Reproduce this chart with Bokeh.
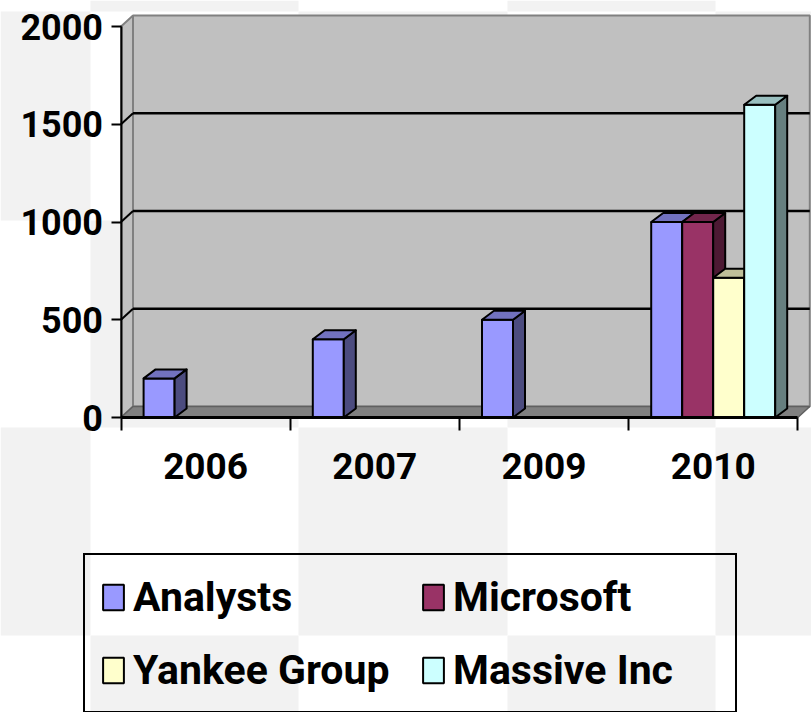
from bokeh.plotting import figure
from bokeh.models import Range1d, FixedTicker, Legend, LegendItem, LinearAxis
from bokeh.embed import file_html
from bokeh.resources import INLINE

# ---------------- data ----------------
categories = ["2006", "2007", "2009", "2010"]
series_names = ["Analysts", "Microsoft", "Yankee Group", "Massive Inc"]
analysts = [200, 400, 500, 1000]
microsoft = [None, None, None, 1000]
yankee = [None, None, None, 715]
massive = [None, None, None, 1600]
series_values = [analysts, microsoft, yankee, massive]
y_ticks = [0, 500, 1000, 1500, 2000]
grid_values = [500, 1000, 1500]

# ---------------- style ----------------
colors = ["#9999ff", "#993366", "#ffffcc", "#ccffff"]
FONT = "Roboto"
W, H = 811, 712
X0, XS = 120.5, 169.2      # pixel of x=0, pixels per category
Y0, YS = 417.0, 0.1955     # pixel of y=0, pixels per unit
DXP, DYP = 12, 11          # wall depth offset in pixels
BDXP, BDYP = 12, 9         # bar depth offset in pixels
BWP = 31                   # bar width in pixels

def shade(c, f):
    r, g, b = int(c[1:3], 16), int(c[3:5], 16), int(c[5:7], 16)
    return "#%02x%02x%02x" % (int(r * f), int(g * f), int(b * f))

def px2x(px):
    return (px - X0) / XS

def px2y(py):
    return (Y0 - py) / YS

DX = DXP / XS
DY = DYP / YS
BDX = BDXP / XS
BDY = BDYP / YS
BW = BWP / XS
ncat = len(categories)
ymax = y_ticks[-1]

p = figure(width=W, height=H, x_range=Range1d(px2x(0), px2x(W)),
           y_range=Range1d(px2y(H), px2y(0)), x_axis_type=None, y_axis_type=None,
           min_border=0, toolbar_location=None, output_backend="svg",
           outline_line_color=None, background_fill_color="white",
           border_fill_color="white")

# checkerboard page background
col_px = [0, 90, 298, 507, 715, W]
row_px = [0, 11, 220, 427, 635, H]
ql, qr, qb, qt = [], [], [], []
for ci in range(len(col_px) - 1):
    for ri in range(len(row_px) - 1):
        if (ci + ri) % 2 == 1:
            ql.append(px2x(col_px[ci])); qr.append(px2x(col_px[ci + 1]))
            qt.append(px2y(row_px[ri])); qb.append(px2y(row_px[ri + 1]))
p.quad(left=ql, right=qr, bottom=qb, top=qt, fill_color="#f2f2f2", line_color=None)

# walls and floor
p.patch([0, DX, DX, 0], [0, DY, ymax + DY, ymax], fill_color="#c0c0c0",
        line_color="#808080", line_width=2)
p.quad(left=[DX], right=[ncat + DX], bottom=[DY], top=[ymax + DY],
       fill_color="#c0c0c0", line_color="#808080", line_width=2)
p.patch([0, ncat, ncat + DX, DX], [0, 0, DY, DY], fill_color="#808080",
        line_color="#606060", line_width=1.5)

# gridlines on back wall + left wall
p.segment(x0=[DX] * len(grid_values), y0=[v + DY for v in grid_values],
          x1=[ncat + DX] * len(grid_values), y1=[v + DY for v in grid_values],
          line_color="black", line_width=2.5)
p.segment(x0=[0] * len(grid_values), y0=grid_values,
          x1=[DX] * len(grid_values), y1=[v + DY for v in grid_values],
          line_color="black", line_width=2)

# bars
nser = len(series_names)
front_renderers = []
for i, vals in enumerate(series_values):
    L, R, T = [], [], []
    sxs, sys, txs, tys = [], [], [], []
    for j, v in enumerate(vals):
        if v is None:
            continue
        left = j + 0.5 - (nser / 2) * BW + i * BW
        right = left + BW
        L.append(left); R.append(right); T.append(v)
        sxs.append([right, right + BDX, right + BDX, right])
        sys.append([0, BDY, v + BDY, v])
        txs.append([left, right, right + BDX, left + BDX])
        tys.append([v, v, v + BDY, v + BDY])
    fr = p.quad(left=L, right=R, bottom=[0] * len(L), top=T,
                fill_color=colors[i], line_color="black", line_width=2)
    p.patches(sxs, sys, fill_color=shade(colors[i], 0.5), line_color="black",
              line_width=2, line_join="round")
    p.patches(txs, tys, fill_color=shade(colors[i], 0.75), line_color="black",
              line_width=2, line_join="round")
    front_renderers.append(fr)

# axes
yax = LinearAxis(fixed_location=0, ticker=FixedTicker(ticks=y_ticks, minor_ticks=[]),
                 bounds=(0, ymax))
yax.axis_line_width = 2
yax.major_tick_out = 10
yax.major_tick_in = 0
yax.major_tick_line_width = 2
yax.major_label_standoff = 8
yax.major_label_text_font = FONT
yax.major_label_text_font_style = "bold"
yax.major_label_text_font_size = "36px"
yax.major_label_text_color = "black"
p.add_layout(yax, "left")

centers = [j + 0.5 for j in range(ncat)]
xax = LinearAxis(fixed_location=0,
                 ticker=FixedTicker(ticks=centers, minor_ticks=list(range(ncat + 1))),
                 bounds=(0, ncat))
xax.major_label_overrides = {c: lab for c, lab in zip(centers, categories)}
xax.axis_line_width = 3
xax.major_tick_line_color = None
xax.major_tick_out = 0
xax.major_tick_in = 0
xax.minor_tick_out = 13
xax.minor_tick_in = 0
xax.minor_tick_line_width = 2
xax.minor_tick_line_color = "black"
xax.major_label_standoff = 22
xax.major_label_text_font = FONT
xax.major_label_text_font_style = "bold"
xax.major_label_text_font_size = "37px"
xax.major_label_text_color = "black"
p.add_layout(xax, "below")

# legend: column-major fill, so order gives rows (Analysts, Microsoft) / (Yankee, Massive)
order = [0, 2, 1, 3]
legend = Legend(items=[LegendItem(label=series_names[k], renderers=[front_renderers[k]])
                       for k in order],
                ncols=2, location=(83, -1))
legend.label_text_font = FONT
legend.label_text_font_style = "bold"
legend.label_text_font_size = "41px"
legend.label_text_color = "black"
legend.glyph_width = 26
legend.glyph_height = 32
legend.label_height = 53
legend.label_width = 267
legend.label_standoff = 7
legend.spacing = 20
legend.padding = 15
legend.margin = 0
legend.border_line_color = "black"
legend.border_line_alpha = 1.0
legend.border_line_width = 2
legend.background_fill_alpha = 0
p.add_layout(legend, "center")

open("out.html", "w").write(file_html(p, INLINE))
